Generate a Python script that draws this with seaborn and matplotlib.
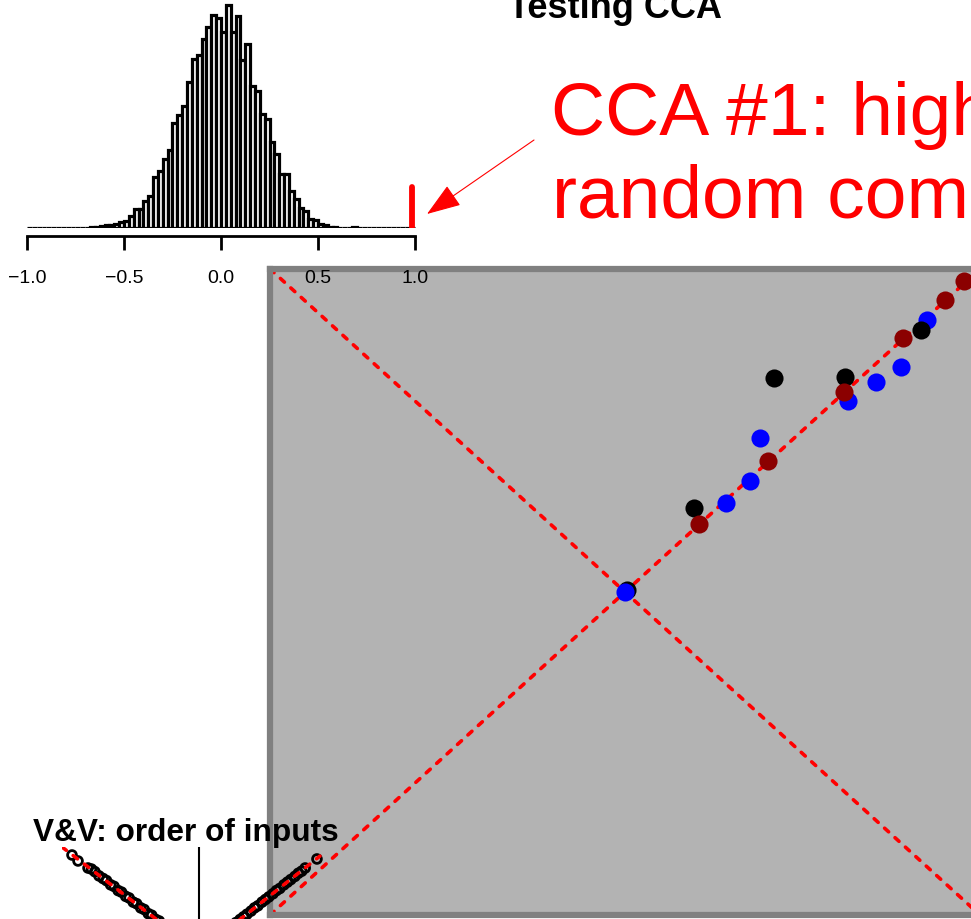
import numpy as np
import pandas as pd
import matplotlib
matplotlib.use("Agg")
import matplotlib.pyplot as plt
import seaborn as sns

# ---------------- data ----------------
# permutation histogram: counts per 0.025-wide bin from -1.0 to 1.0
hist_counts = [
    0, 0, 0, 0, 0, 0, 0, 0, 0, 0,
    0, 0, 0, 1, 1, 2, 3, 3, 4, 6,
    7, 12, 19, 19, 27, 32, 51, 57, 69, 78,
    105, 113, 122, 146, 169, 173, 189, 201, 213, 210,
    196, 223, 196, 212, 168, 184, 142, 137, 114, 109,
    86, 74, 54, 54, 37, 29, 20, 17, 9, 8,
    4, 3, 1, 1, 0, 0, 0, 1, 0, 0,
    0, 0, 0, 0, 0, 0, 0, 0, 0, 0,
]
hist_ticks = [-1.0, -0.5, 0.0, 0.5, 1.0]
hist_tick_labels = ["\u22121.0", "\u22120.5", "0.0", "0.5", "1.0"]
observed_cca = 0.985
observed_height = 41

# Testing CCA panel points
cca_black_center_x = [0.006]
cca_black_center_y = [0.006]
cca_blue_x = [0.0, 0.284, 0.351, 0.380, 0.628, 0.708, 0.778, 0.852]
cca_blue_y = [0.0, 0.275, 0.343, 0.478, 0.592, 0.649, 0.697, 0.843]
cca_black_x = [0.194, 0.420, 0.620, 0.833]
cca_black_y = [0.259, 0.663, 0.666, 0.811]
cca_red_x = [0.208, 0.404, 0.616, 0.783, 0.901, 0.955]
cca_red_y = [0.210, 0.406, 0.618, 0.787, 0.903, 0.964]

# V&V panel points
vv_x = [-0.927, -0.883, -0.81, -0.785, -0.76, -0.73, -0.70, -0.675, -0.645,
        -0.62, -0.59, -0.565, -0.535, -0.51, -0.48, -0.455, -0.425, -0.40,
        -0.37, -0.345, -0.315, -0.29, -0.26, -0.235,
        0.861, 0.775, 0.75, 0.725, 0.70, 0.67, 0.645, 0.62, 0.59, 0.565,
        0.54, 0.51, 0.485, 0.46, 0.43, 0.405, 0.38, 0.35, 0.325, 0.30,
        0.27, 0.245]
vv_y = [0.924, 0.867, 0.80, 0.79, 0.765, 0.725, 0.70, 0.68, 0.64,
        0.625, 0.585, 0.57, 0.53, 0.515, 0.475, 0.46, 0.42, 0.405,
        0.365, 0.35, 0.31, 0.295, 0.255, 0.24,
        0.886, 0.80, 0.77, 0.75, 0.72, 0.69, 0.665, 0.64, 0.605, 0.585,
        0.555, 0.525, 0.50, 0.475, 0.44, 0.42, 0.39, 0.36, 0.335, 0.31,
        0.28, 0.25]
vv_line_x = [-1.0, 0.0, 0.883]
vv_line_y = [1.0, 0.0, 0.914]

# ---------------- style ----------------
sns.set_style("white")
plt.rcParams["font.family"] = ["Liberation Sans", "DejaVu Sans"]
plt.rcParams["text.color"] = "black"
plt.rcParams["xtick.color"] = "black"
plt.rcParams["axes.labelcolor"] = "black"

W, H = 971, 920
fig = plt.figure(figsize=(W / 100, H / 100), dpi=100)

def frac(x0, y_top, w, h):
    """pixel box (left, top, width, height) -> figure fraction rect"""
    return [x0 / W, (H - y_top - h) / H, w / W, h / H]

dash = dict(color="red", lw=2.6, linestyle=(0, (1.5, 2.4)), dash_capstyle="round")

# ---------------- gray CCA panel ----------------
ax_g = fig.add_axes(frac(270, 270, 710, 646))
ax_g.set_zorder(0)
ax_g.set_facecolor("#b3b3b3")
for s in ax_g.spines.values():
    s.set_visible(True)
    s.set_color("#808080")
    s.set_linewidth(4.5)
ax_g.set_xlim(-1, 1)
ax_g.set_ylim(-1, 1)
ax_g.set_xticks([])
ax_g.set_yticks([])
ax_g.axline((0, 0), slope=1, **dash)
ax_g.axline((0, 0), slope=-1, **dash)
sns.scatterplot(x=cca_black_center_x, y=cca_black_center_y, color="black", s=170,
                linewidth=0, ax=ax_g, zorder=3)
sns.scatterplot(x=cca_blue_x, y=cca_blue_y, color="#0000ff", s=170,
                linewidth=0, ax=ax_g, zorder=3)
sns.scatterplot(x=cca_black_x, y=cca_black_y, color="black", s=170,
                linewidth=0, ax=ax_g, zorder=3)
sns.scatterplot(x=cca_red_x, y=cca_red_y, color="#8b0000", s=170,
                linewidth=0, ax=ax_g, zorder=3)
ax_g.set_xlabel("")
ax_g.set_ylabel("")

# ---------------- histogram ----------------
ax_h = fig.add_axes(frac(23.1, 229 - 240, 395.8, 240))
ax_h.set_zorder(2)
ax_h.patch.set_alpha(0)
bin_w = 2.0 / len(hist_counts)
centers = -1 + bin_w * (np.arange(len(hist_counts)) + 0.5)
hist_df = pd.DataFrame({"r": centers, "n": hist_counts})
sns.histplot(data=hist_df, x="r", weights="n", binwidth=bin_w, binrange=(-1, 1),
             stat="count", element="bars", fill=True, color="white",
             edgecolor="black", linewidth=2.3, alpha=1, ax=ax_h)
ax_h.plot([observed_cca, observed_cca], [0, observed_height], color="red",
          lw=4.2, solid_capstyle="round", zorder=5)
ax_h.set_xlim(-1.02, 1.02)
ax_h.set_ylim(0, 240)
ax_h.set_xlabel("")
ax_h.set_ylabel("")
ax_h.set_yticks([])
for k in ["left", "top", "right"]:
    ax_h.spines[k].set_visible(False)
ax_h.spines["bottom"].set_visible(True)
ax_h.spines["bottom"].set_position(("outward", 5.8))
ax_h.spines["bottom"].set_bounds(-1, 1)
ax_h.spines["bottom"].set_linewidth(2)
ax_h.spines["bottom"].set_color("black")
ax_h.set_xticks(hist_ticks)
ax_h.set_xticklabels(hist_tick_labels, fontsize=14, color="black")
ax_h.tick_params(axis="x", bottom=True, length=10.4, width=2, pad=13.5,
                 direction="out", color="black", labelcolor="black")

# ---------------- V&V panel ----------------
ax_v = fig.add_axes(frac(62, 848, 274, 210))
ax_v.set_zorder(3)
ax_v.patch.set_alpha(0)
ax_v.set_xlim(-1, 1)
ax_v.set_ylim(-1, 1)
ax_v.axis("off")
ax_v.plot([0, 0], [-1, 1.03], color="black", lw=1.5)
sns.scatterplot(x=vv_x, y=vv_y, s=40, facecolor="none", edgecolor="black",
                linewidth=2.0, ax=ax_v, zorder=3)
ax_v.plot(vv_line_x, vv_line_y, zorder=4, **dash)

# ---------------- texts ----------------
fig.text(614.5 / W, (H - 18) / H, "Testing CCA", ha="center", va="baseline",
         fontsize=26, fontweight="bold", color="black")
fig.text(551 / W, (H - 135) / H, "CCA #1: high", ha="left", va="baseline",
         fontsize=54, color="red")
fig.text(552 / W, (H - 218) / H, "random components", ha="left", va="baseline",
         fontsize=54, color="red")
fig.text(33 / W, (H - 840.7) / H, "V&V: order of inputs", ha="left",
         va="baseline", fontsize=22.8, fontweight="bold", color="black")
ax_h.annotate("", xy=(427, H - 215), xytext=(534, H - 141),
              xycoords="figure pixels", textcoords="figure pixels",
              annotation_clip=False,
              arrowprops=dict(arrowstyle="-|>,head_length=1.08,head_width=0.38",
                              mutation_scale=20, lw=0.8, color="red",
                              shrinkA=0, shrinkB=0))

fig.savefig("out.png", dpi=100)
